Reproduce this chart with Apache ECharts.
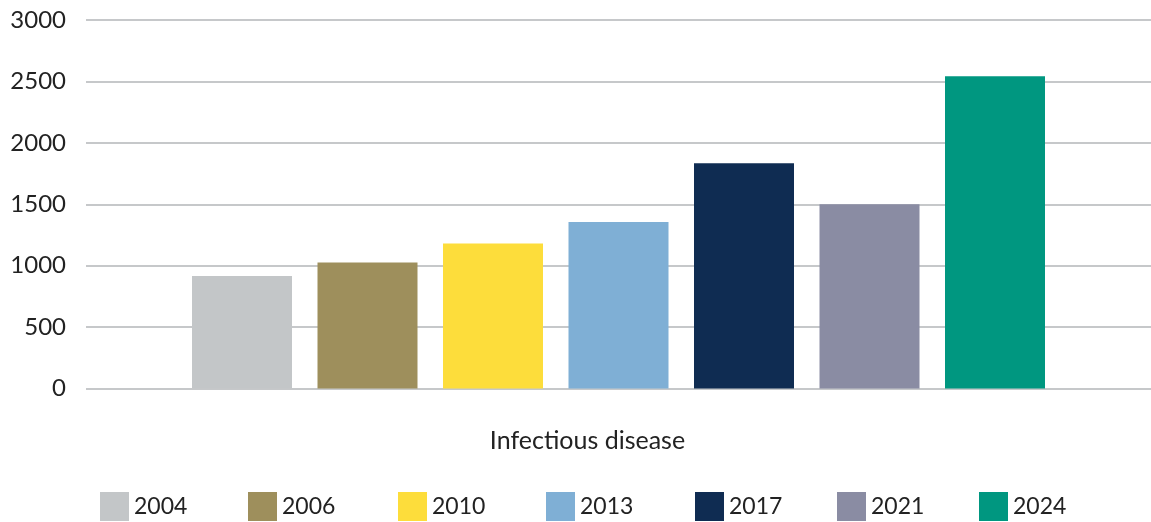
<!DOCTYPE html>
<html>
<head>
<meta charset="utf-8">
<script src="https://cdn.jsdelivr.net/npm/echarts@6/dist/echarts.min.js"></script>
<style>
  html, body { margin: 0; padding: 0; background: #fff; }
  #chart { width: 1151px; height: 522px; }
</style>
</head>
<body>
<div id="chart"></div>
<script>
// Category on the x axis
const categories = ['Infectious disease'];

// One series per survey year
const years = ['2004', '2006', '2010', '2013', '2017', '2021', '2024'];
const values2004 = [915];
const values2006 = [1025];
const values2010 = [1180];
const values2013 = [1355];
const values2017 = [1834];
const values2021 = [1500];
const values2024 = [2543];
const yearValues = [values2004, values2006, values2010, values2013, values2017, values2021, values2024];

// Value-axis ticks
const yMin = 0, yMax = 3000, yStep = 500;

const colors = ['#c3c6c8', '#9e8f5c', '#fddd3b', '#7fafd5', '#0f2c52', '#8a8ca3', '#009780'];
const font = 'Lato, "Liberation Sans", sans-serif';

// Left edge of each legend entry along the bottom row
const legendLeft = [100, 248, 398, 546, 695, 837, 979];

const chart = echarts.init(document.getElementById('chart'));

const series = years.map((y, i) => ({
  name: y,
  type: 'bar',
  data: yearValues[i],
  barWidth: 100,
  barGap: '25.5%',
  itemStyle: { color: colors[i] }
}));

const legends = years.map((y, i) => ({
  data: [y],
  top: 492,
  left: legendLeft[i],
  padding: 0,
  itemWidth: 29,
  itemHeight: 29,
  icon: 'rect',
  textStyle: { fontFamily: font, fontSize: 23, color: '#222' }
}));

chart.setOption({
  animation: false,
  color: colors,
  grid: { left: 86, right: -3, top: 20, bottom: 133.5 },
  legend: legends,
  xAxis: {
    type: 'category',
    data: categories,
    axisLine: { show: false },
    axisTick: { show: false },
    axisLabel: {
      margin: 40,
      fontFamily: font,
      fontSize: 25,
      color: '#222',
      padding: [0, 62, 0, 0]
    }
  },
  yAxis: {
    type: 'value',
    min: yMin,
    max: yMax,
    interval: yStep,
    axisLine: { show: false },
    axisTick: { show: false },
    axisLabel: {
      margin: 20,
      fontFamily: font,
      fontSize: 24,
      color: '#222',
      formatter: v => String(v)
    },
    splitLine: { lineStyle: { color: '#c6c8ca', width: 2 } }
  },
  series: series
});
</script>
</body>
</html>
